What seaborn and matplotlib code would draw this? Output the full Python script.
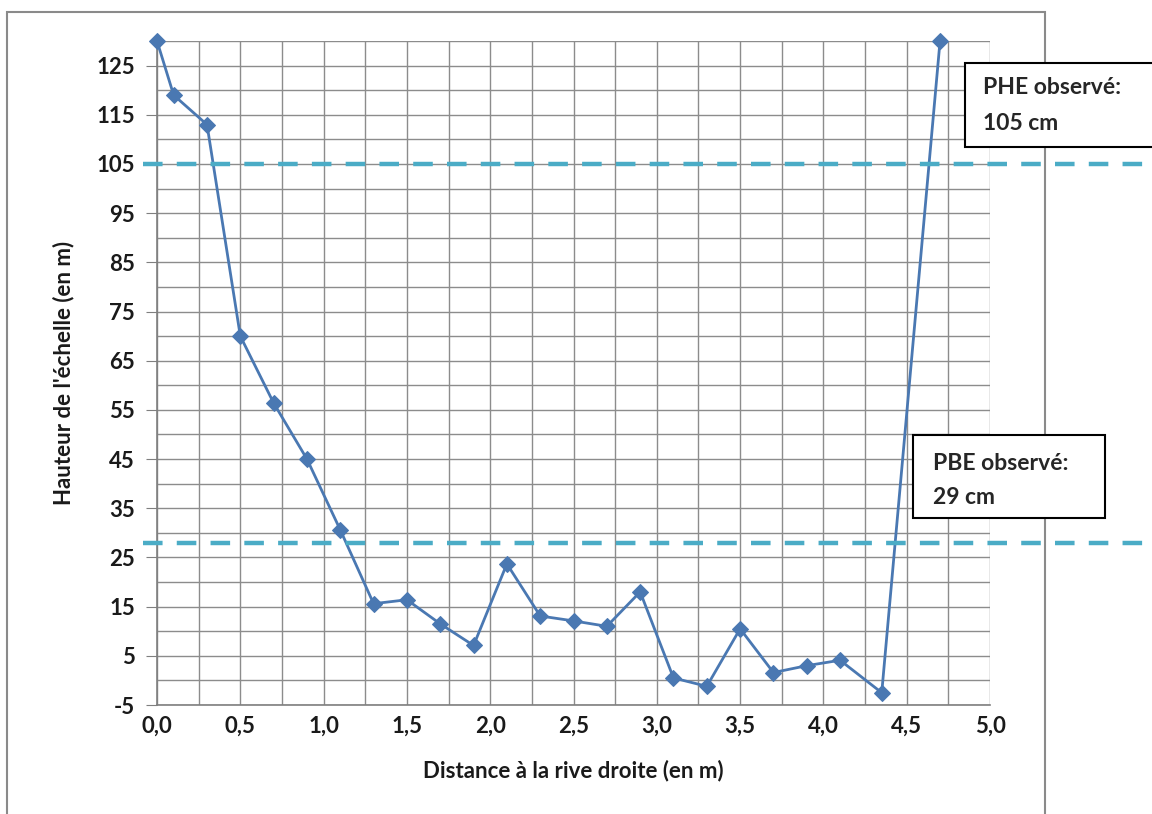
import matplotlib
matplotlib.use("Agg")
import matplotlib.pyplot as plt
import matplotlib.transforms as mtransforms
from matplotlib.patches import Rectangle
from matplotlib.ticker import MultipleLocator, FuncFormatter
import seaborn as sns
import pandas as pd

# cross-section profile
distance = [0.0, 0.1, 0.3, 0.5, 0.7, 0.9, 1.1, 1.3, 1.5, 1.7, 1.9, 2.1, 2.3, 2.5,
            2.7, 2.9, 3.1, 3.3, 3.5, 3.7, 3.9, 4.1, 4.35, 4.7]
hauteur = [130, 119, 113, 70, 56.4, 45, 30.6, 15.6, 16.4, 11.5, 7.1, 23.7, 13.1, 12.1,
           11.0, 18.0, 0.5, -1.2, 10.5, 1.6, 3.0, 4.1, -2.5, 130]
phe = 105
pbe = 28
phe_lines = ["PHE observé:", "105 cm"]
pbe_lines = ["PBE observé:", "29 cm"]

df = pd.DataFrame({"Distance": distance, "Hauteur": hauteur})

sns.set_style("white")
plt.rcParams['font.family'] = ['Lato', 'DejaVu Sans']
plt.rcParams['axes.unicode_minus'] = False

fig = plt.figure(figsize=(11.52, 8.14), dpi=100)
ax = fig.add_axes([0.1363, 0.1339, 0.7231, 0.8157])

grid_color = '#8c8c8c'
ax.set_xlim(0, 5)
ax.set_ylim(-5, 130)
ax.xaxis.set_major_locator(MultipleLocator(0.5))
ax.xaxis.set_minor_locator(MultipleLocator(0.25))
ax.yaxis.set_minor_locator(MultipleLocator(5))
ax.set_yticks([v for v in range(-5, 130, 10)])
ax.xaxis.set_major_formatter(FuncFormatter(lambda v, p: f"{v:.1f}".replace('.', ',')))
ax.grid(True, which='both', color=grid_color, linewidth=1.0)
ax.set_axisbelow(True)
for side in ['top', 'right']:
    ax.spines[side].set_visible(False)
for side in ['left', 'bottom']:
    ax.spines[side].set_color('#7f7f7f')
    ax.spines[side].set_linewidth(1.2)
ax.tick_params(axis='y', which='major', length=8, color='#7f7f7f', direction='out', left=True, pad=8)
ax.tick_params(axis='y', which='minor', length=0)
ax.tick_params(axis='x', which='both', length=0, pad=8)
for lab in ax.get_xticklabels() + ax.get_yticklabels():
    lab.set_fontsize(16)
    lab.set_fontweight('bold')
    lab.set_color('#1a1a1a')

sns.lineplot(data=df, x="Distance", y="Hauteur", sort=False, ax=ax, color='#4a78b2',
             linewidth=2.0, marker='D', markersize=8, markeredgecolor='#4a78b2',
             zorder=3, clip_on=False)

ax.set_xlabel("Distance à la rive droite (en m)", fontsize=16, fontweight='bold',
              color='#1a1a1a', labelpad=16)
ax.set_ylabel("Hauteur de l'échelle (en m)", fontsize=16, fontweight='bold',
              color='#1a1a1a', labelpad=16)

# observed levels, drawn past the plot area like in the original
trans = mtransforms.blended_transform_factory(ax.transAxes, ax.transData)
for level in [phe, pbe]:
    ax.plot([-0.017, 1.2], [level, level], transform=trans, clip_on=False,
            color='#4bacc6', linewidth=3.2, dashes=(4.4, 3.2), zorder=4)

# outer chart frame
fig.patches.append(Rectangle((0.0061, -0.02), 0.901, 1.005, transform=fig.transFigure,
                             fill=False, edgecolor='#8a8a8a', linewidth=1.5, zorder=0))

# annotation boxes
fig.patches.append(Rectangle((0.8377, 0.8194), 0.2, 0.1032, transform=fig.transFigure,
                             facecolor='white', edgecolor='black', linewidth=1.5, zorder=5))
fig.text(0.8533, 1 - 88 / 814, phe_lines[0], fontsize=16.5, fontweight='bold',
         va='center', ha='left', zorder=6)
fig.text(0.8533, 1 - 123 / 814, phe_lines[1], fontsize=16.5, fontweight='bold',
         va='center', ha='left', zorder=6)
fig.patches.append(Rectangle((0.7925, 0.3636), 0.1667, 0.102, transform=fig.transFigure,
                             facecolor='white', edgecolor='black', linewidth=1.5, zorder=5))
fig.text(0.8099, 1 - 463 / 814, pbe_lines[0], fontsize=16.5, fontweight='bold',
         va='center', ha='left', zorder=6)
fig.text(0.8099, 1 - 497 / 814, pbe_lines[1], fontsize=16.5, fontweight='bold',
         va='center', ha='left', zorder=6)

fig.savefig("out.png", dpi=100)
